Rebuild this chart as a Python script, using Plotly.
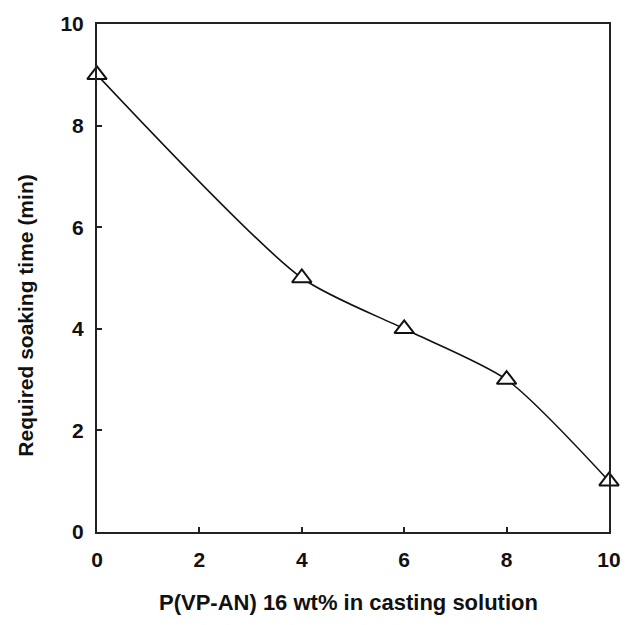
import plotly.graph_objects as go

# P(VP-AN) content (wt%) and the soaking time it requires (min)
pvp_an = [0, 4, 6, 8, 10]
soak_time = [9, 5, 4, 3, 1]

x_ticks = [0, 2, 4, 6, 8, 10]
y_ticks = [0, 2, 4, 6, 8, 10]

x_title = "P(VP-AN) 16 wt% in casting solution"
y_title = "Required soaking time (min)"

font_family = "Liberation Sans, Arial, sans-serif"

fig = go.Figure()
fig.add_trace(go.Scatter(
    x=pvp_an,
    y=soak_time,
    mode="lines+markers",
    line=dict(color="#111111", width=1.6, shape="spline", smoothing=0.7),
    marker=dict(symbol="triangle-up", size=17, color="white",
                line=dict(color="#111111", width=2)),
    cliponaxis=False,
    showlegend=False,
))

axis_common = dict(
    showline=True, linecolor="#222222", linewidth=2, mirror=True,
    ticks="inside", ticklen=5, tickwidth=1.5, tickcolor="#222222",
    showgrid=False, zeroline=False,
    tickfont=dict(family=font_family, size=21, color="#111111", weight="bold"),
)

fig.update_layout(
    width=633, height=625,
    margin=dict(l=97, r=20, t=21, b=93),
    paper_bgcolor="white", plot_bgcolor="white",
    xaxis=dict(range=[0, 10], tickvals=x_ticks, ticklabelstandoff=8, **axis_common),
    yaxis=dict(range=[0, 10], tickvals=y_ticks, ticklabelstandoff=7, **axis_common),
    annotations=[
        dict(text=x_title, xref="paper", yref="paper", x=0.492, y=-0.139,
             xanchor="center", yanchor="middle", showarrow=False,
             font=dict(family=font_family, size=22, color="#111111", weight="bold")),
        dict(text=y_title, xref="paper", yref="paper", x=-0.1395, y=0.425,
             xanchor="center", yanchor="middle", showarrow=False, textangle=-90,
             font=dict(family=font_family, size=21, color="#111111", weight="bold")),
    ],
)

fig.write_html("out.html")
